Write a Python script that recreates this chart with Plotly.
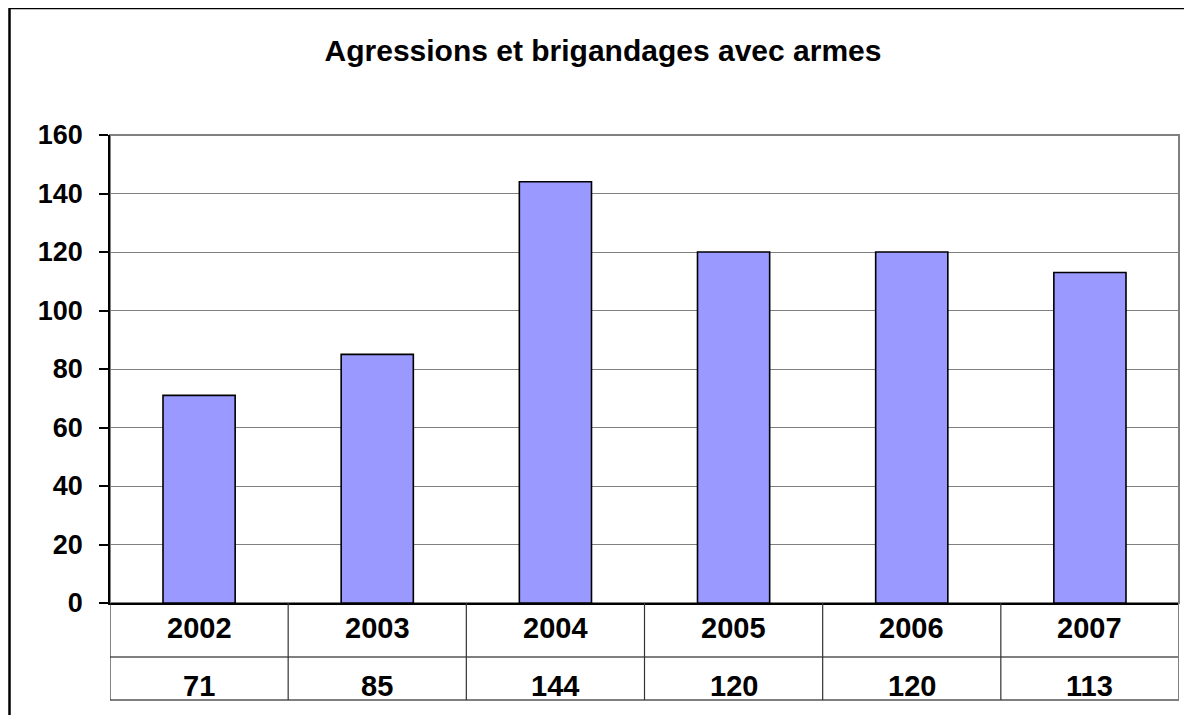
import plotly.graph_objects as go

years = ["2002", "2003", "2004", "2005", "2006", "2007"]
values = [71, 85, 144, 120, 120, 113]
y_ticks = [0, 20, 40, 60, 80, 100, 120, 140, 160]
title_text = "Agressions et brigandages avec armes"

W, H = 1192, 715
OFF = 8  # browser body margin shift
# reference pixel positions of plot area
REF_L, REF_R, REF_T, REF_B = 110, 1179, 135, 603
L = REF_L - OFF
T = REF_T - OFF
R = W - (REF_R - OFF)
B = H - (REF_B - OFF)
plot_h = H - T - B
plot_w = W - L - R

def py(px):  # reference pixel y -> paper y
    return (REF_B - px) / plot_h

def pxx(px):  # reference pixel x -> paper x
    return (px - REF_L) / plot_w

FONT = "Liberation Sans, Arial, sans-serif"

fig = go.Figure()
fig.add_trace(go.Bar(
    x=list(range(len(years))), y=values, width=0.405,
    marker=dict(color="#9999FF", line=dict(color="black", width=1.6)),
    hoverinfo="skip",
))

shapes = []
# plot area border (gray)
shapes.append(dict(type="rect", xref="paper", yref="paper", x0=0, x1=1, y0=0, y1=1,
                   line=dict(color="#808080", width=2), layer="below"))
# outer chart border
shapes.append(dict(type="rect", xref="paper", yref="paper",
                   x0=pxx(9.5), x1=pxx(1210), y0=py(740), y1=py(8),
                   line=dict(color="black", width=2.5)))
# data table lines
y_top, y_mid, y_bot = py(603), py(657), py(700)
for yy in (y_mid, y_bot):
    shapes.append(dict(type="line", xref="paper", yref="paper", x0=0, x1=1, y0=yy, y1=yy,
                       line=dict(color="#555555", width=1.3)))
for i in range(len(years) + 1):
    col = "#808080" if i == len(years) else "#333333"
    wd = 2 if i == len(years) else 1.2
    shapes.append(dict(type="line", xref="x", yref="paper", x0=i - 0.5, x1=i - 0.5,
                       y0=y_bot, y1=y_top, line=dict(color=col, width=wd)))

annotations = []
for i, (yr, v) in enumerate(zip(years, values)):
    annotations.append(dict(x=i, y=py(628), xref="x", yref="paper", text=f"<b>{yr}</b>",
                            showarrow=False, yanchor="middle",
                            font=dict(size=29, color="black", family=FONT)))
    annotations.append(dict(x=i, y=py(686), xref="x", yref="paper", text=f"<b>{v}</b>",
                            showarrow=False, yanchor="middle",
                            font=dict(size=29, color="black", family=FONT)))

fig.update_layout(
    width=W, height=H,
    margin=dict(l=L, r=R, t=T, b=B),
    paper_bgcolor="white", plot_bgcolor="white",
    showlegend=False,
    title=dict(text=f"<b>{title_text}</b>", x=(603 - OFF) / W, xanchor="center",
               y=1 - (50 - OFF) / H, yanchor="middle", xref="container", yref="container",
               font=dict(size=30, color="black", family=FONT)),
    xaxis=dict(range=[-0.5, len(years) - 0.5], showticklabels=False, showgrid=False,
               zeroline=False, showline=True, linecolor="black", linewidth=1.5, ticks=""),
    yaxis=dict(range=[0, 160], tickvals=y_ticks, ticktext=[f"<b>{t}</b>" for t in y_ticks],
               showgrid=True, gridcolor="#808080", gridwidth=1,
               zeroline=False, showline=True, linecolor="black", linewidth=1.5,
               ticks="outside", ticklen=9, tickcolor="black", tickwidth=1.5,
               ticklabelstandoff=11,
               tickfont=dict(size=27, color="black", family=FONT)),
    shapes=shapes, annotations=annotations,
)

fig.write_html("out.html")
